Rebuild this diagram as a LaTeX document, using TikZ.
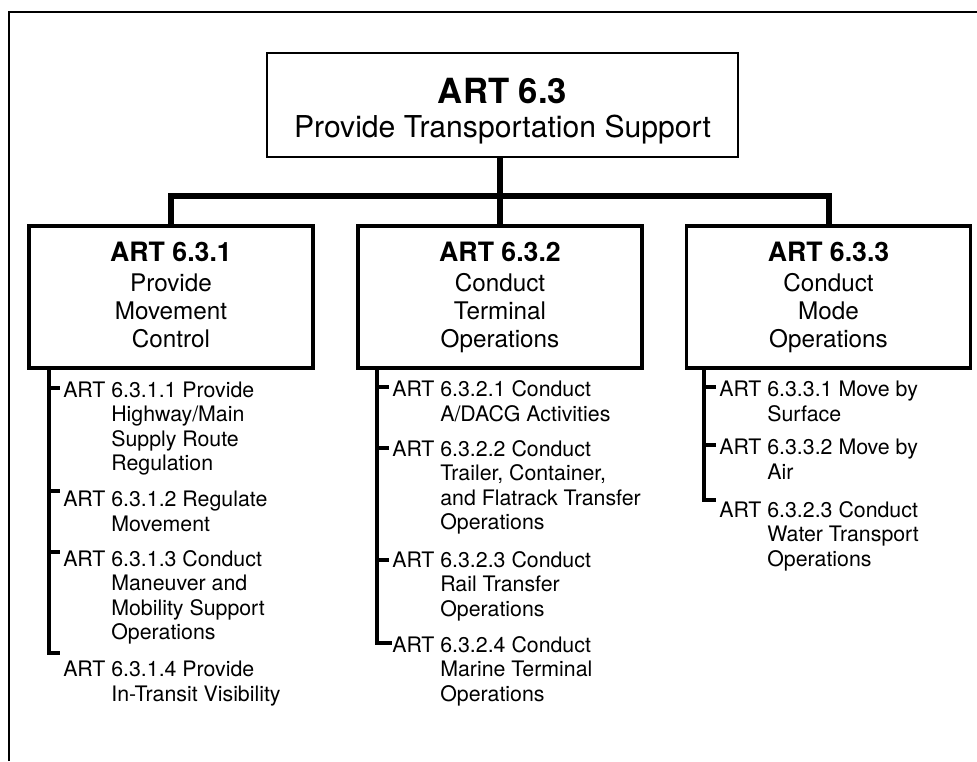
\documentclass[tikz,border=0pt]{standalone}
\usepackage{fontspec}
\setmainfont{TeX Gyre Heros}
\newcommand\artind{\hphantom{ART }}
\begin{document}
\begin{tikzpicture}[x=0.75pt,y=-0.75pt,
  frameline/.style={line width=1.2pt},
  topbox/.style={draw,line width=1.6pt,minimum width=353.25pt,minimum height=78pt,inner sep=0pt},
  childbox/.style={draw,line width=2.3pt,minimum width=213pt,minimum height=106.5pt,inner sep=0pt},
  conn/.style={line width=4.5pt},
  listline/.style={line width=3pt},
  tickline/.style={line width=3pt,shorten >=2pt},
  tophdr/.style={anchor=base,inner sep=0pt,font=\fontsize{26}{30}\selectfont\bfseries},
  topbody/.style={anchor=base,inner sep=0pt,font=\fontsize{22.6}{27}\selectfont},
  hdr/.style={anchor=base,inner sep=0pt,font=\fontsize{20}{24}\selectfont\bfseries},
  body/.style={anchor=base,inner sep=0pt,align=center,font=\fontsize{18.2}{21}\selectfont},
  item/.style={anchor=base west,inner sep=0pt,align=left,font=\fontsize{16}{18.4}\selectfont},
]
\useasboundingbox (0,0) rectangle (977,761);
% partial frame
\coordinate (fa) at (9,761);
\coordinate (fb) at (9,12);
\coordinate (fc) at (977,12);
\draw[frameline] (fa) -- (fb) -- (fc);

% top box
\node[topbox] (top) at (502.5,105) {};
\node[tophdr] (toph) at (502.5,103.5) {ART 6.3};
\node[topbody] (topt) at (502.5,137) {Provide Transportation Support};

% child boxes
\node[childbox] (c1) at (171,297) {};
\node[childbox] (c2) at (500,297) {};
\node[childbox] (c3) at (828.5,297) {};

% (multi-line nodes are placed by the baseline of their last line)
\node[hdr] (c1h) at (171,261) {ART 6.3.1};
\node[body] (c1t) at (171,347) {Provide\\Movement\\Control};
\node[hdr] (c2h) at (500,261) {ART 6.3.2};
\node[body] (c2t) at (500,347) {Conduct\\Terminal\\Operations};
\node[hdr] (c3h) at (828.5,261) {ART 6.3.3};
\node[body] (c3t) at (828.5,347) {Conduct\\Mode\\Operations};

% connectors
\coordinate (bar) at (500,196);
\draw[conn] (bar |- top.south) -- (bar);
\draw[conn] (c1.north) |- (bar) -| (c3.north);
\draw[conn] (c2.north) -- (c2.north |- bar);

% list items, column 1
\node[item] (i11) at (63,470.6) {ART 6.3.1.1 Provide\\\artind Highway/Main\\\artind Supply Route\\\artind Regulation};
\node[item] (i12) at (63,531.5) {ART 6.3.1.2 Regulate\\\artind Movement};
\node[item] (i13) at (63,639.6) {ART 6.3.1.3 Conduct\\\artind Maneuver and\\\artind Mobility Support\\\artind Operations};
\node[item] (i14) at (63,701.5) {ART 6.3.1.4 Provide\\\artind In-Transit Visibility};

% list items, column 2
\node[item] (i21) at (392,421.5) {ART 6.3.2.1 Conduct\\\artind A/DACG Activities};
\node[item] (i22) at (392,529.6) {ART 6.3.2.2 Conduct\\\artind Trailer, Container,\\\artind and Flatrack Transfer\\\artind Operations};
\node[item] (i23) at (392,616.1) {ART 6.3.2.3 Conduct\\\artind Rail Transfer\\\artind Operations};
\node[item] (i24) at (392,701.1) {ART 6.3.2.4 Conduct\\\artind Marine Terminal\\\artind Operations};

% list items, column 3
\node[item] (i31) at (719,421.5) {ART 6.3.3.1 Move by\\\artind Surface};
\node[item] (i32) at (719,479.5) {ART 6.3.3.2 Move by\\\artind Air};
\node[item] (i33) at (719,566.1) {ART 6.3.2.3 Conduct\\\artind Water Transport\\\artind Operations};

% list lines
\coordinate (h1) at (49,653);
\coordinate (h1e) at (60,653);
\draw[listline] (c1.south -| h1) -- (h1) -- (h1e);
\coordinate (k11) at (49,388);
\coordinate (k12) at (49,491);
\coordinate (k13) at (49,552);
\draw[tickline] (k11) -- (k11 -| i11.west);
\draw[tickline] (k12) -- (k12 -| i12.west);
\draw[tickline] (k13) -- (k13 -| i13.west);

\coordinate (h2) at (376.5,643);
\draw[listline] (c2.south -| h2) -- (h2) -- (h2 -| i24.west);
\coordinate (k21) at (376.5,387);
\coordinate (k22) at (376.5,448);
\coordinate (k23) at (376.5,560);
\draw[tickline] (k21) -- (k21 -| i21.west);
\draw[tickline] (k22) -- (k22 -| i22.west);
\draw[tickline] (k23) -- (k23 -| i23.west);

\coordinate (h3) at (704,500);
\coordinate (h3e) at (716,500);
\draw[listline] (c3.south -| h3) -- (h3) -- (h3e);
\coordinate (k31) at (704,387);
\coordinate (k32) at (704,445);
\draw[tickline] (k31) -- (k31 -| i31.west);
\draw[tickline] (k32) -- (k32 -| i32.west);
\end{tikzpicture}
\end{document}
